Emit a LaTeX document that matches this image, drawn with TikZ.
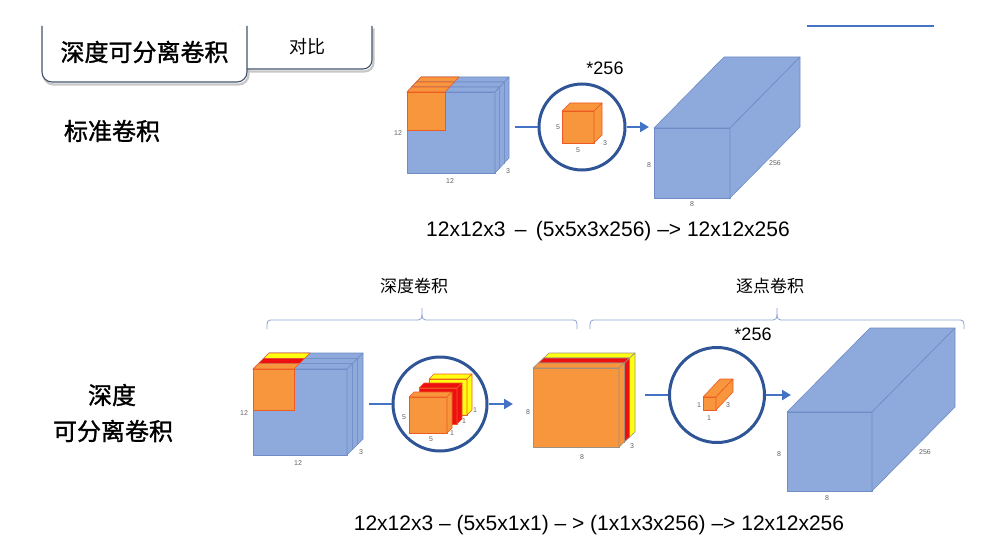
\documentclass[tikz,border=0pt]{standalone}
\usepackage{fontspec}
\setmainfont{Liberation Sans}
\newfontfamily\cjk{Noto Sans CJK SC}
\newfontfamily\cjkb[FakeBold=1.2]{Noto Sans CJK SC}
\usetikzlibrary{arrows.meta}

\definecolor{bfill}{HTML}{8EA9DB}
\definecolor{bdraw}{HTML}{6F8CC6}
\definecolor{ofill}{HTML}{F7963C}
\definecolor{odraw}{HTML}{EE5A24}
\definecolor{rfill}{HTML}{EE1010}
\definecolor{yfill}{HTML}{FFFF10}
\definecolor{ring}{HTML}{2F5597}
\definecolor{arr}{HTML}{4472C4}
\definecolor{lab}{HTML}{606060}
\definecolor{tabline}{HTML}{44546A}
\definecolor{brc}{HTML}{8BA3CF}
\definecolor{sgray}{HTML}{A09080}

% #1 x, #2 y (front top-left), #3 w, #4 h, #5 dx, #6 dy, #7 fill, #8 stroke
\newcommand{\cuboid}[8]{%
  \filldraw[fill=#7,draw=#8,line join=round,line width=0.6pt] (#1,#2) rectangle (#1+#3,#2+#4);
  \filldraw[fill=#7,draw=#8,line join=round,line width=0.6pt] (#1,#2) -- (#1+#5,#2+#6) -- (#1+#3+#5,#2+#6) -- (#1+#3,#2) -- cycle;
  \filldraw[fill=#7,draw=#8,line join=round,line width=0.6pt] (#1+#3,#2) -- (#1+#3+#5,#2+#6) -- (#1+#3+#5,#2+#4+#6) -- (#1+#3,#2+#4) -- cycle;
}
% blue slice with coloured kernel patch: ox oy w h sdx sdy kw kh colour
\newcommand{\kslice}[9]{%
  \cuboid{#1}{#2}{#3}{#4}{#5}{#6}{bfill}{bdraw}
  \filldraw[fill=#9,draw=odraw,line width=0.6pt] (#1,#2) rectangle (#1+#7,#2+#8);
  \filldraw[fill=#9,draw=odraw,line width=0.6pt,line join=round] (#1,#2) -- (#1+#5,#2+#6) -- (#1+#7+#5,#2+#6) -- (#1+#7,#2) -- cycle;
}

\begin{document}
\begin{tikzpicture}[x=1pt,y=-1pt,
  lbl/.style={text=lab,font=\fontsize{7}{8}\selectfont,inner sep=0pt},
  ringc/.style={circle,draw=ring,line width=3pt,inner sep=0pt},
  conn/.style={draw=arr,line width=2.6pt},
  conna/.style={conn,-{Triangle[length=9pt,width=10pt]}},
  bigcjk/.style={font=\cjkb\fontsize{24}{30}\selectfont,inner sep=0pt},
  midcjk/.style={font=\cjk\fontsize{17}{20}\selectfont,inner sep=0pt},
  eqn/.style={font=\fontsize{21}{25}\selectfont,inner sep=0pt},
  mult/.style={font=\fontsize{18}{21}\selectfont,inner sep=0pt},
  bracep/.style={draw=brc,line width=0.8pt},
  tabp/.style={fill=white,draw=tabline,line width=1.1pt}]
\useasboundingbox (0,0) rectangle (982,548);

% ---------- header tabs ----------
\begin{scope}[shift={(1.5,2.5)}]
  \draw[black!22,line width=2.2pt,rounded corners=9pt] (240,60) -- (240,69) -- (372,69) -- (372,26);
  \draw[black!22,line width=2.2pt,rounded corners=10pt] (42,26) -- (42,82) -- (247,82) -- (247,60);
\end{scope}
\filldraw[tabp,rounded corners=9pt] (240,26) -- (240,69) -- (372,69) -- (372,26);
\filldraw[tabp,rounded corners=10pt] (42,26) -- (42,82) -- (247,82) -- (247,26);
\node[bigcjk] (tabA) at (144.5,52) {深度可分离卷积};
\node[font=\cjk\fontsize{18}{22}\selectfont,inner sep=0pt] (tabB) at (307,47) {对比};
\coordinate (tl1) at (807,26);
\coordinate (tl2) at (934,26);
\draw[arr,line width=1.4pt] (tl1) -- (tl2);

% ---------- standard convolution ----------
\node[bigcjk] (std) at (112,131) {标准卷积};

% input 12x12x3
\kslice{416.33}{82}{88}{81}{4.67}{-5}{38}{38}{ofill}
\kslice{411.67}{87}{88}{81}{4.67}{-5}{38}{38}{ofill}
\kslice{407}{92}{88}{81}{4.67}{-5}{38}{38}{ofill}
\node[lbl] (s12a) at (398,133) {12};
\node[lbl] (s12b) at (450,181) {12};
\node[lbl] (s3) at (508,171) {3};

% kernel circle
\node[ringc,minimum size=86pt] (c1) at (582,127) {};
\cuboid{562}{111}{32}{32}{8}{-8}{ofill}{odraw}
\node[lbl] (k5a) at (558,127) {5};
\node[lbl] (k5b) at (578,150) {5};
\node[lbl] (k3) at (605,143) {3};
\node[mult] (m1) at (605,68) {*256};

\coordinate (a1) at (515,127);
\coordinate (a2) at (649,127);
\draw[conn] (a1) -- (c1.west);
\draw[conna] (c1.east) -- (a2);

% output 8x8x256
\cuboid{654}{128}{76}{70}{70}{-71}{bfill}{bdraw}
\node[lbl] (o8a) at (649,165) {8};
\node[lbl] (o8b) at (692,204) {8};
\node[lbl] (o256) at (775,163) {256};

\node[eqn] (eq1) at (608,231) {12x12x3 \,–\, (5x5x3x256) –> 12x12x256};

% ---------- depthwise separable ----------
\node[bigcjk] (dsa) at (112,395) {深度};
\node[bigcjk] (dsb) at (113,431) {可分离卷积};

\node[midcjk] (dw) at (414,286) {深度卷积};
\node[midcjk] (pw) at (770,286) {逐点卷积};

\draw[bracep] (267,329) .. controls (267,320) and (267,320) .. (274,320) -- (415,320)
  .. controls (422,320) and (422,320) .. (422,308) .. controls (422,320) and (422,320) .. (429,320)
  -- (570,320) .. controls (577,320) and (577,320) .. (577,329);
\draw[bracep] (590,329) .. controls (590,320) and (590,320) .. (597,320) -- (770,320)
  .. controls (777,320) and (777,320) .. (777,308) .. controls (777,320) and (777,320) .. (784,320)
  -- (957,320) .. controls (964,320) and (964,320) .. (964,329);

% input 12x12x3 with coloured channels
\kslice{263.67}{358.33}{94}{86}{5.33}{-5.33}{41}{41}{yfill}
\kslice{258.33}{363.67}{94}{86}{5.33}{-5.33}{41}{41}{rfill}
\kslice{253}{369}{94}{86}{5.33}{-5.33}{41}{41}{ofill}
\node[lbl] (d12a) at (244,413) {12};
\node[lbl] (d12b) at (298,463) {12};
\node[lbl] (d3) at (361,452) {3};

% depthwise kernels
\node[ringc,minimum size=94pt] (c2) at (440,404) {};
\cuboid{429}{379}{38}{36}{5}{-5}{yfill}{odraw}
\cuboid{419}{388}{38}{36}{5}{-5}{rfill}{odraw}
\cuboid{409}{397}{38}{36}{5}{-5}{ofill}{odraw}
\node[lbl] (dk5a) at (404,417) {5};
\node[lbl] (dk5b) at (431,439) {5};
\node[lbl] (dk1a) at (452,433) {1};
\node[lbl] (dk1b) at (464,421) {1};
\node[lbl] (dk1c) at (475,410) {1};

\coordinate (b1) at (369,404);
\coordinate (b2) at (513,404);
\draw[conn] (b1) -- (c2.west);
\draw[conna] (c2.east) -- (b2);

% intermediate 8x8x3
\cuboid{543.67}{358}{86}{79}{5.33}{-5}{yfill}{sgray}
\cuboid{538.33}{363}{86}{79}{5.33}{-5}{rfill}{sgray}
\cuboid{533}{368}{86}{79}{5.33}{-5}{ofill}{sgray}
\node[lbl] (i8a) at (528,412) {8};
\node[lbl] (i8b) at (582,457) {8};
\node[lbl] (i3) at (632,446) {3};

% pointwise kernel
\node[ringc,minimum size=95pt] (c3) at (717,395) {};
\cuboid{703}{397}{13}{13}{17}{-18}{ofill}{odraw}
\node[lbl] (pk1a) at (699,405) {1};
\node[lbl] (pk1b) at (709,418) {1};
\node[lbl] (pk3) at (728,405) {3};
\node[mult] (m2) at (753,334) {*256};

\coordinate (p1) at (645,395);
\coordinate (p2) at (791,395);
\draw[conn] (p1) -- (c3.west);
\draw[conna] (c3.east) -- (p2);

% output 8x8x256
\cuboid{787}{412}{85}{79}{83}{-84}{bfill}{bdraw}
\node[lbl] (q8a) at (779,454) {8};
\node[lbl] (q8b) at (827,498) {8};
\node[lbl] (q256) at (925,452) {256};

\node[eqn] (eq2) at (599,525) {12x12x3 – (5x5x1x1) – > (1x1x3x256) –> 12x12x256};
\end{tikzpicture}
\end{document}
